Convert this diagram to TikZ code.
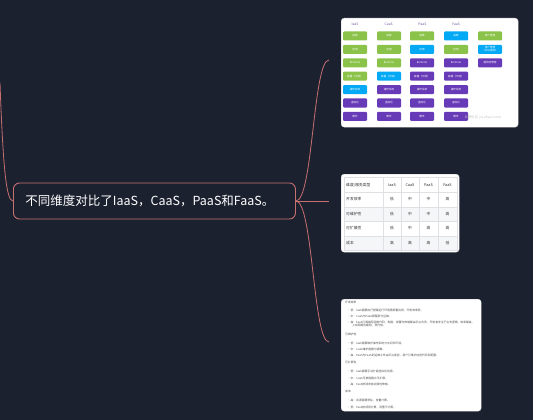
\documentclass[tikz,border=0pt]{standalone}
\usepackage{fontspec}
\newfontfamily\cjk{Noto Sans CJK SC}
\usepackage{tikz}
\usetikzlibrary{positioning}

\definecolor{bgnavy}{RGB}{28,33,48}
\definecolor{linkred}{RGB}{198,112,112}
\definecolor{cg}{RGB}{139,195,74}
\definecolor{cb}{RGB}{3,169,244}
\definecolor{cp}{RGB}{103,58,183}
\definecolor{tabline}{RGB}{222,224,228}
\definecolor{tabshade}{RGB}{245,246,248}
\definecolor{inktext}{RGB}{80,80,80}

\tikzset{
	topic/.style={draw=linkred, line width=0.9pt, rounded corners=6pt, fill=bgnavy, text=white,
		font=\cjk\fontsize{12.5}{15}\selectfont, text width=258pt, align=left, inner xsep=12pt, minimum height=36pt},
	link/.style={draw=linkred, line width=0.8pt},
	shot/.style={fill=white, rounded corners=3pt, draw=gray!40, line width=0.3pt, inner sep=0pt},
	stackbox/.style={rounded corners=1pt, minimum width=24pt, minimum height=9pt, inner sep=0pt,
		text=white, font=\cjk\fontsize{2.6}{3}\selectfont, align=center},
	hd/.style={font=\cjk\fontsize{3.4}{4}\selectfont, text=cp!50!gray},
	cell/.style={font=\cjk\fontsize{3.8}{4.5}\selectfont, text=black!80, inner sep=0pt},
	tiny/.style={font=\cjk\fontsize{2.8}{3.6}\selectfont, text=inktext, inner sep=0pt, anchor=west, align=left},
}
\newcommand\layername[1]{\ifcase#1\or 函数\or 应用\or Runtime\or 容器（可选）\or 操作系统\or 虚拟化\or 硬件\fi}

\begin{document}
\begin{tikzpicture}[x=1pt, y=-1pt]
	\fill[bgnavy] (0,0) rectangle (533,420);
	\useasboundingbox (0,0) rectangle (533,420);

	\node[topic, anchor=west] (main) at (13,201) {不同维度对比了IaaS，CaaS，PaaS和FaaS。};

	\node[shot, minimum width=177pt, minimum height=109pt, anchor=north west] (stack) at (341,18) {};
	\node[shot, minimum width=118pt, minimum height=78pt, anchor=north west] (grid) at (341,174) {};
	\node[shot, minimum width=140pt, minimum height=112pt, anchor=north west] (notes) at (341,299) {};

	\coordinate (up) at (0,83);
	\coordinate (s1) at (329,60);
	\coordinate (s2) at (329,201);
	\coordinate (s3) at (329,342);

	\draw[link] (up) .. controls (3,165) and (6,201) .. (main.west);
	\draw[link] (main.east) .. controls (313,201) and (313,60) .. (s1);
	\draw[link] (main.east) -- (s2);
	\draw[link] (main.east) .. controls (313,201) and (313,342) .. (s3);

	% layer stack
	\foreach \h [count=\c] in {IaaS,CaaS,PaaS,FaaS}
		\node[hd] (hd\c) at (321.3+33.7*\c,24) {\h};
	\foreach \k [count=\r] in {cg,cg,cg,cg,cb,cp,cp}
		\node[stackbox, fill=\k] (ia\r) at (355,22.6+13.4*\r) {\layername{\r}};
	\foreach \k [count=\r] in {cg,cg,cg,cb,cp,cp,cp}
		\node[stackbox, fill=\k] (ca\r) at (389,22.6+13.4*\r) {\layername{\r}};
	\foreach \k [count=\r] in {cg,cb,cp,cp,cp,cp,cp}
		\node[stackbox, fill=\k] (pa\r) at (422,22.6+13.4*\r) {\layername{\r}};
	\foreach \k [count=\r] in {cb,cg,cp,cp,cp,cp,cp}
		\node[stackbox, fill=\k] (fa\r) at (456,22.6+13.4*\r) {\layername{\r}};
	\node[stackbox, fill=cg] (own) at (490,36) {用户管理};
	\node[stackbox, fill=cb] (ownp) at (490,49.4) {用户管理\\（平台提供）};
	\node[stackbox, fill=cp] (vendor) at (490,62.8) {提供商管理};
	\node[font=\cjk\fontsize{3.4}{4}\selectfont, text=gray!45] (mark) at (483,117) {云栖社区 yq.aliyun.com};

	% table
	\fill[tabshade] (344,207) rectangle (457,221.5);
	\fill[tabshade] (344,236) rectangle (457,250);
	\draw[tabline, line width=0.5pt] (344,177) rectangle (457,250);
	\foreach \yy in {192,207,221.5,236}
		\draw[tabline, line width=0.5pt] (344,\yy) -- (457,\yy);
	\foreach \xx in {383,401,419,438}
		\draw[tabline, line width=0.5pt] (\xx,177) -- (\xx,250);
	\node[cell, anchor=west] (th0) at (346,185) {维度/服务类型};
	\foreach \h/\xx [count=\c] in {IaaS/392,CaaS/410,PaaS/428.5,FaaS/447.5}
		\node[cell] (th\c) at (\xx,185) {\h};
	\foreach \lbl/\a/\b/\cc/\d [count=\r] in {开发效率/低/中/中/高, 可维护性/低/中/中/高, 可扩展性/低/中/高/高, 成本/高/高/高/低} {
		\node[cell, anchor=west] (row\r) at (346,185+14.5*\r) {\lbl};
		\node[cell] (va\r) at (392,185+14.5*\r) {\a};
		\node[cell] (vb\r) at (410,185+14.5*\r) {\b};
		\node[cell] (vc\r) at (428.5,185+14.5*\r) {\cc};
		\node[cell] (vd\r) at (447.5,185+14.5*\r) {\d};
	}

	% notes
	\node[tiny] (n1) at (345,302) {开发效率};
	\node[tiny] (n1a) at (347,310) {• 低：IaaS需要自行搭建运行环境再部署应用，开发效率低。};
	\node[tiny] (n1b) at (347,316) {• 中：CaaS与PaaS屏蔽部分运维。};
	\node[tiny, anchor=north west] (n1c) at (347,320.5) {• 高：FaaS只需编写函数代码，构建、部署与伸缩都由平台负责，开发者专注于业务逻辑，效率最高，\\\hspace{5pt}上线周期也最短，迭代快。};
	\node[tiny] (n2) at (345,334) {可维护性};
	\node[tiny] (n2a) at (347,343) {• 低：IaaS需要维护操作系统与中间件环境。};
	\node[tiny] (n2b) at (347,349) {• 中：CaaS维护容器与镜像。};
	\node[tiny] (n2c) at (347,355) {• 高：PaaS与FaaS的运维工作由平台承担，用户只维护应用代码和配置。};
	\node[tiny] (n3) at (345,362) {可扩展性};
	\node[tiny] (n3a) at (347,371) {• 低：IaaS需要手动扩容虚拟机资源。};
	\node[tiny] (n3b) at (347,378) {• 中：CaaS可按容器水平扩展。};
	\node[tiny] (n3c) at (347,384) {• 高：FaaS按请求自动弹性伸缩。};
	\node[tiny] (n4) at (345,391) {成本};
	\node[tiny] (n4a) at (347,400) {• 高：资源需要常驻，按量计费。};
	\node[tiny] (n4b) at (347,407) {• 低：FaaS按调用计费，闲置不计费。};
\end{tikzpicture}
\end{document}
